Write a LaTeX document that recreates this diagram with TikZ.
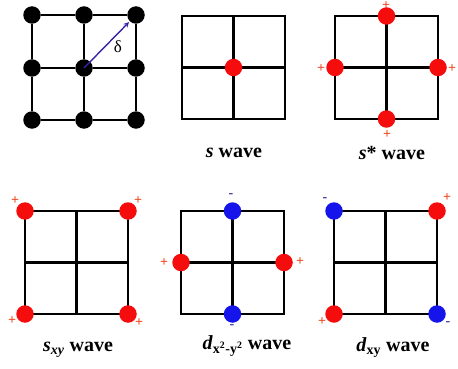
\documentclass[tikz,border=0pt]{standalone}
\usepackage{fontspec}
\setmainfont{Liberation Serif}
\usepackage{xcolor}
\definecolor{sitered}{RGB}{245,12,12}
\definecolor{siteblue}{RGB}{20,20,235}
\definecolor{plusred}{RGB}{240,70,30}
\definecolor{minusblue}{RGB}{50,50,160}
\definecolor{bondblue}{RGB}{55,35,165}

\begin{document}
\begin{tikzpicture}[x=1pt, y=-1pt,
    site/.style={circle, fill=black, inner sep=0pt, minimum size=17.5pt},
    redsite/.style={site, fill=sitered},
    bluesite/.style={site, fill=siteblue},
    lattice/.style={line width=2.2pt},
    possign/.style={text=plusred, inner sep=0pt, font=\bfseries\fontsize{14}{14}\selectfont},
    negsign/.style={text=minusblue, inner sep=0pt, font=\bfseries\fontsize{14}{14}\selectfont},
    wave/.style={font=\bfseries\fontsize{20}{24}\selectfont}]
                \useasboundingbox (0,0) rectangle (458,369);

                % square lattice with nearest neighbour vector
                \foreach \i/\x in {0/32, 1/84, 2/136} {
                    \foreach \j/\y in {0/15, 1/68, 2/120} {
                        \node[site] (a\i\j) at (\x,\y) {};
                    }
                }
                \foreach \k in {0,1,2} {
                    \draw[lattice] (a0\k) -- (a1\k) -- (a2\k);
                    \draw[lattice] (a\k0) -- (a\k1) -- (a\k2);
                }
                \draw[bondblue, line width=1.4pt, -stealth, shorten >=1pt] (a11.center) -- (a20);
                \node[font=\fontsize{17}{17}\selectfont] (delta) at (118,47) {δ};

                % lattices of the pairing panels
                \foreach \x/\y in {182/16, 335/16, 25/211, 181/211, 334/211} {
                    \draw[lattice] (\x,\y) rectangle ++(103,103);
                    \draw[lattice] (\x+51.5,\y) -- ++(0,103);
                    \draw[lattice] (\x,\y+51.5) -- ++(103,0);
                }

                % s wave
                \node[redsite] (s0) at (233.5,67.5) {};
                \node[wave] (slabel) at (234,153) {\textit{s} wave};

                % s* wave
                \node[redsite] (st) at (386.5,16) {};
                \node[redsite] (sl) at (335,67.5) {};
                \node[redsite] (sr) at (438,67.5) {};
                \node[redsite] (sb) at (386.5,119) {};
                \node[possign] at (386,6) {+};
                \node[possign] at (321,69) {+};
                \node[possign] at (452,69) {+};
                \node[possign] at (387,135) {+};
                \node[wave] (stlabel) at (392,153) {\textit{s}* wave};

                % s_xy wave
                \node[redsite] (xtl) at (25,211) {};
                \node[redsite] (xtr) at (128,211) {};
                \node[redsite] (xbl) at (25,314) {};
                \node[redsite] (xbr) at (128,314) {};
                \node[possign] at (15,201) {+};
                \node[possign] at (138,201) {+};
                \node[possign] at (12,321) {+};
                \node[possign] at (139,323) {+};
                \node[wave] (xlabel) at (78,350) {\textit{s}\textsubscript{\textit{xy}} wave};

                % d_{x^2-y^2} wave
                \node[bluesite] (dt) at (232.5,211) {};
                \node[redsite] (dl) at (181,262.5) {};
                \node[redsite] (dr) at (284,262.5) {};
                \node[bluesite] (db) at (232.5,314) {};
                \node[negsign] at (231,196) {-};
                \node[possign] at (164,263) {+};
                \node[possign] at (300,262) {+};
                \node[negsign] at (232,327) {-};
                \node[wave] (dlabel) at (247,346) {\textit{d}\textsubscript{x\textsuperscript{2}-y\textsuperscript{2}} wave};

                % d_xy wave
                \node[bluesite] (ytl) at (334,211) {};
                \node[redsite] (ytr) at (437,211) {};
                \node[redsite] (ybl) at (334,314) {};
                \node[bluesite] (ybr) at (437,314) {};
                \node[negsign] at (325,200) {-};
                \node[possign] at (447,198) {+};
                \node[possign] at (322,322) {+};
                \node[negsign] at (448,324) {-};
                \node[wave] (ylabel) at (393,348) {\textit{d}\textsubscript{xy} wave};
\end{tikzpicture}
\end{document}
